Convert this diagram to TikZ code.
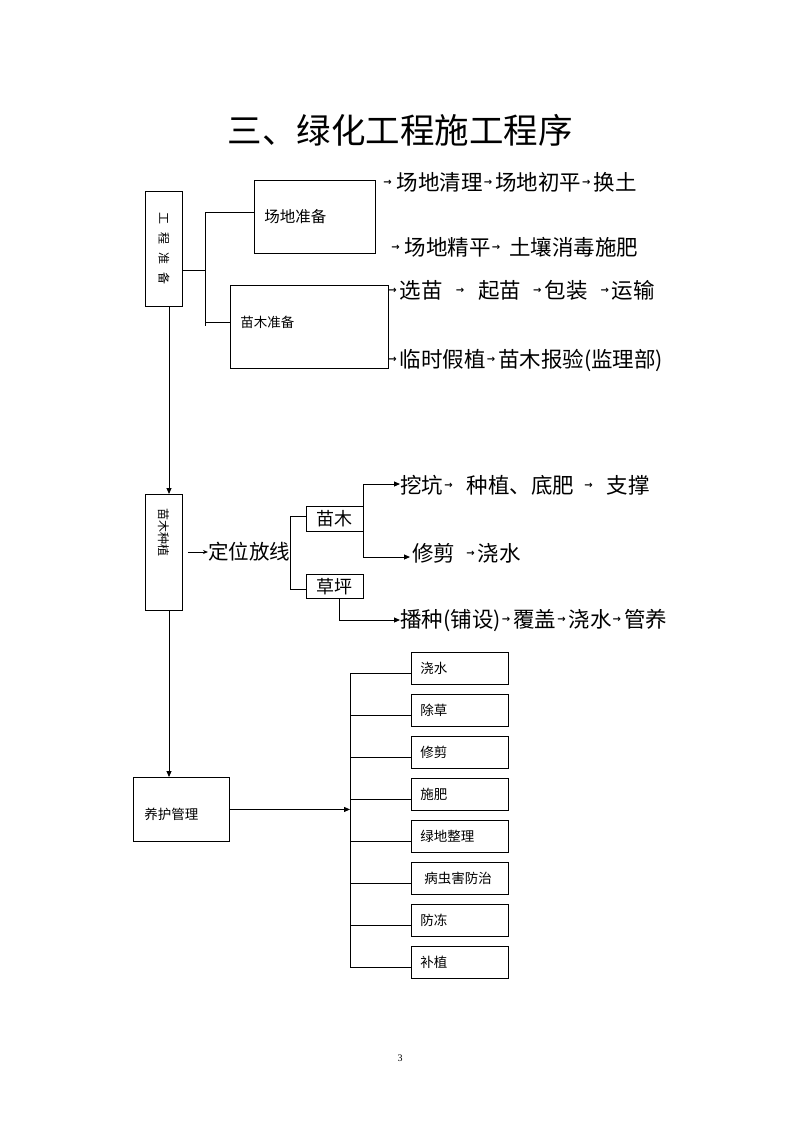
\documentclass[tikz,border=0pt]{standalone}
\usepackage{fontspec}
\setmainfont{Liberation Serif}
\newfontfamily\cjk{Noto Sans CJK SC}
\newfontfamily\arrfont{DejaVu Sans}
\usetikzlibrary{arrows.meta}

% small arrow inside the text lines
\newcommand{\sarr}{\kern1pt\raisebox{5pt}{\arrfont\bfseries\fontsize{10}{10}\selectfont →}\kern3pt}

\begin{document}
\begin{tikzpicture}[x=1pt, y=-1pt, font=\cjk, line width=0.9pt,
    kuang/.style={draw, inner sep=0pt, anchor=north west},
    tri/.style={-{Triangle[length=6pt,width=5pt]}},
    big/.style={anchor=west, inner sep=0pt, font=\cjk\fontsize{21.5}{21.5}\selectfont},
    small/.style={anchor=west, inner sep=0pt, font=\cjk\fontsize{13.5}{13.5}\selectfont}]

\useasboundingbox (0,0) rectangle (800,1132);

% title
\node (title) at (400,130) {\fontsize{34.5}{34.5}\selectfont 三、绿化工程施工程序};

% ---- 工程准备
\node[kuang, minimum width=37pt, minimum height=115pt] (gc) at (145,191) {};
\node[rotate=-90, font=\cjk\fontsize{12}{12}\selectfont] at (gc.center) {工\hspace{8pt}程\hspace{8pt}准\hspace{8pt}备};

\node[kuang, minimum width=121pt, minimum height=73pt] (cd) at (254,180) {};
\node[small, font=\cjk\fontsize{15.5}{15.5}\selectfont] at (264,217) {场地准备};
\node[kuang, minimum width=158pt, minimum height=83pt] (mm) at (230,285) {};
\node[small] at (240,322) {苗木准备};

\coordinate (j0) at (205,270);
\coordinate (j1) at (205,212);
\coordinate (j2) at (205,326);
\coordinate (j3) at (205,322);
\draw (gc.east |- j0) -- (j0);
\draw (j1) -- (j2);
\draw (j1) -- (cd.west |- j1);
\draw (j3) -- (mm.west |- j3);

\node[big] (t1) at (382,182) {\sarr\kern2pt 场地清理\sarr 场地初平\sarr 换土};
\node[big] (t2) at (390,247) {\sarr\kern2pt 场地精平\sarr\hspace{6pt}土壤消毒施肥};
\node[big] (t3) at (387,290) {\sarr 选苗\hspace{12pt}\sarr\hspace{11pt}起苗\hspace{11pt}\sarr 包装\hspace{12pt}\sarr 运输};
\node[big] (t4) at (387,360) {\sarr 临时假植\sarr 苗木报验(监理部)};

% ---- 苗木种植
\coordinate (v) at (169,0);
\node[kuang, minimum width=37pt, minimum height=116pt] (mz) at (145,494) {};
\node[rotate=-90, font=\cjk\fontsize{12}{12}\selectfont] at (163.5,532) {苗木种植};
\draw[tri] (gc.south -| v) -- (mz.north -| v);

\node[big, font=\cjk\fontsize{20.5}{20.5}\selectfont] (dw) at (208,552) {定位放线};
\draw[-{Stealth[length=5pt,width=4pt]}] ([xshift=5pt]mz.east |- dw) -- (dw.west);

\node[kuang, minimum width=57pt, minimum height=25pt] (mu) at (306,506) {};
\node[font=\cjk\fontsize{18}{18}\selectfont] at (mu.center) {苗木};
\node[kuang, minimum width=57pt, minimum height=24pt] (cp) at (306,574) {};
\node[font=\cjk\fontsize{18}{18}\selectfont] at (cp.center) {草坪};

\coordinate (k1) at (290,516);
\coordinate (k2) at (290,589);
\draw (mu.west |- k1) -- (k1) -- (k2) -- (cp.west |- k2);

\node[big] (s1) at (400,485) {挖坑\sarr\hspace{11pt}种植、底肥\hspace{9pt}\sarr\hspace{11pt}支撑};
\node[big] (s2) at (412,553) {修剪\hspace{10pt}\sarr 浇水};
\node[big] (s3) at (400,620) {播种(铺设)\sarr 覆盖\sarr 浇水\sarr 管养};

\coordinate (m1) at (363,484);
\coordinate (m2) at (363,557);
\draw[tri] (m2 |- mu.south) -- (m1) -- (s1.west |- m1);
\draw[tri] (m2 |- mu.south) -- (m2) -- ([xshift=-2pt]s2.west |- m2);
\coordinate (c1) at (339,620);
\draw[tri] (c1 |- cp.south) -- (c1) -- (s3.west |- c1);

% ---- 养护管理
\node[kuang, minimum width=96pt, minimum height=64pt] (yf) at (133,777) {};
\node[small] at (144,814) {养护管理};
\draw[tri] (mz.south -| v) -- (yf.north -| v);

\coordinate (trunk) at (350,0);
\foreach \i in {0,...,7}{
    \node[kuang, minimum width=97pt, minimum height=32pt] (yh\i) at (411,652+42*\i) {};
    \draw ([yshift=-5pt]yh\i.west) -- ([yshift=-5pt]yh\i.west -| trunk);
}
\node[small] at (420,668) {浇水};
\node[small] at (420,710) {除草};
\node[small] at (420,752) {修剪};
\node[small] at (420,794) {施肥};
\node[small] at (420,836) {绿地整理};
\node[small] at (424,878) {病虫害防治};
\node[small] at (420,920) {防冻};
\node[small] at (420,962) {补植};
\draw ([yshift=-5pt]yh0.west -| trunk) -- ([yshift=-5pt]yh7.west -| trunk);
\draw[tri] (yf.east) -- (yf.east -| trunk);

% page number
\node[font=\rmfamily\fontsize{10}{10}\selectfont] (page) at (400,1058) {3};

\end{tikzpicture}
\end{document}
